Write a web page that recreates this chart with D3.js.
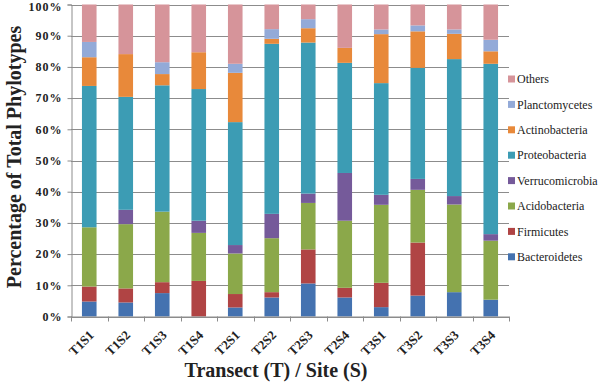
<!DOCTYPE html>
<html><head><meta charset="utf-8">
<script src="https://cdn.jsdelivr.net/npm/d3@7"></script>
<style>
html,body{margin:0;padding:0;background:#fff;}
svg{display:block;}
</style></head>
<body>
<svg id="chart" width="600" height="383"></svg>
<script>
const categories = ["T1S1","T1S2","T1S3","T1S4","T2S1","T2S2","T2S3","T2S4","T3S1","T3S2","T3S3","T3S4"];
const seriesNames = ["Bacteroidetes","Firmicutes","Acidobacteria","Verrucomicrobia","Proteobacteria","Actinobacteria","Planctomycetes","Others"];
const bacteroidetes   = [4.8, 4.5, 7.5, 0, 2.9, 6.1, 10.6, 6.1, 3.0, 6.7, 7.8, 5.4];
const firmicutes      = [4.8, 4.5, 3.5, 11.4, 4.3, 1.7, 10.9, 3.1, 7.8, 17.0, 0, 0];
const acidobacteria   = [19.0, 20.6, 22.6, 15.4, 13.0, 17.3, 14.9, 21.5, 25.0, 16.9, 28.1, 18.9];
const verrucomicrobia = [0, 4.6, 0, 3.9, 2.7, 7.8, 3.0, 15.3, 3.2, 3.5, 2.7, 2.1];
const proteobacteria  = [45.3, 36.2, 40.5, 42.2, 39.4, 54.5, 48.4, 35.3, 35.8, 35.6, 43.9, 54.6];
const actinobacteria  = [9.2, 13.7, 3.6, 11.8, 15.8, 1.6, 4.6, 4.8, 15.7, 11.7, 8.1, 4.0];
const planctomycetes  = [4.9, 0, 3.8, 0, 2.9, 3.1, 2.9, 0, 1.5, 1.9, 1.4, 3.7];
const others          = [12.0, 15.9, 18.5, 15.3, 19.0, 7.9, 4.7, 13.9, 8.0, 6.7, 8.0, 11.3];
const yTicks = [0,10,20,30,40,50,60,70,80,90,100];
const colors = ["#4472B0","#B04444","#8BA84A","#755A9A","#3C9CB4","#E8893A","#93AAD8","#D6949A"];

const seriesValues = [bacteroidetes, firmicutes, acidobacteria, verrucomicrobia, proteobacteria, actinobacteria, planctomycetes, others];
const table = categories.map((c,i)=>{
  const row = {cat:c};
  seriesNames.forEach((s,j)=>{ row[s] = seriesValues[j][i]; });
  return row;
});
const stacked = d3.stack().keys(seriesNames)(table);

const svg = d3.select("#chart");
const mLeft = 71, mRight = 509, mTop = 4.5, mBottom = 316.5;
const serif = "'Liberation Serif','Times New Roman',serif";

const x = d3.scaleBand().domain(categories).range([mLeft,mRight]).paddingInner(0.6).paddingOuter(0.3);
const y = d3.scaleLinear().domain([0,100]).range([mBottom,mTop]);
const color = d3.scaleOrdinal().domain(seriesNames).range(colors);

// gridlines
svg.append("g").selectAll("line").data(yTicks).join("line")
  .attr("x1",mLeft).attr("x2",mRight)
  .attr("y1",d=>Math.round(y(d))+0.5).attr("y2",d=>Math.round(y(d))+0.5)
  .attr("stroke","#8c8c8c").attr("stroke-width",1);

// bars
svg.append("g").selectAll("g").data(stacked).join("g")
  .attr("fill",d=>color(d.key))
  .selectAll("rect").data(d=>d).join("rect")
  .attr("x",d=>x(d.data.cat))
  .attr("width",x.bandwidth())
  .attr("y",d=>y(d[1]))
  .attr("height",d=>y(d[0])-y(d[1]));

// y axis
const yAxis = d3.axisLeft(y).tickValues(yTicks).tickSize(4).tickPadding(5).tickFormat(d=>d+"%");
const gy = svg.append("g").attr("transform",`translate(${mLeft+0.5},0)`).call(yAxis);
gy.attr("font-family",serif);
gy.select(".domain").attr("stroke","#8c8c8c");
gy.selectAll(".tick line").attr("stroke","#8c8c8c");
gy.selectAll(".tick text").attr("font-family",serif).attr("font-size",12).attr("font-weight","bold")
  .attr("fill","#222").attr("letter-spacing","1px")
  .attr("dy",d=> d===100 ? "0.5em" : "0.32em");

// x axis line & ticks at band boundaries
const step = x.step();
const boundaries = d3.range(categories.length+1).map(i=> mLeft + i*step);
svg.append("line").attr("x1",mLeft).attr("x2",mRight).attr("y1",mBottom+0.5).attr("y2",mBottom+0.5)
  .attr("stroke","#8c8c8c");
svg.append("g").selectAll("line").data(boundaries).join("line")
  .attr("x1",d=>Math.round(d)+0.5).attr("x2",d=>Math.round(d)+0.5)
  .attr("y1",mBottom).attr("y2",mBottom+5).attr("stroke","#8c8c8c");

// x labels
svg.append("g").selectAll("text").data(categories).join("text")
  .attr("transform",d=>`translate(${x(d)+x.bandwidth()/2-1},${mBottom+13}) rotate(-45)`)
  .attr("text-anchor","end")
  .attr("dy","0.7em")
  .attr("font-family",serif).attr("font-size",13).attr("font-weight","bold").attr("fill","#222")
  .text(d=>d);

// axis titles
svg.append("text")
  .attr("transform","translate(21,157) rotate(-90)")
  .attr("text-anchor","middle")
  .attr("font-family",serif).attr("font-size",20).attr("font-weight","bold").attr("fill","#222")
  .text("Percentage of Total Phylotypes");
svg.append("text")
  .attr("x",276).attr("y",377)
  .attr("text-anchor","middle")
  .attr("font-family",serif).attr("font-size",20).attr("font-weight","bold").attr("fill","#222")
  .text("Transect (T) / Site (S)");

// legend
const legendOrder = seriesNames.slice().reverse();
const lg = svg.append("g").selectAll("g").data(legendOrder).join("g")
  .attr("transform",(d,i)=>`translate(508,${79 + i*25.4})`);
lg.append("rect").attr("x",0).attr("y",-3.5).attr("width",7).attr("height",7).attr("fill",d=>color(d));
lg.append("text").attr("x",9).attr("y",0).attr("dy","0.35em")
  .attr("font-family",serif).attr("font-size",12).attr("fill","#222")
  .text(d=>d);
</script>
</body></html>
